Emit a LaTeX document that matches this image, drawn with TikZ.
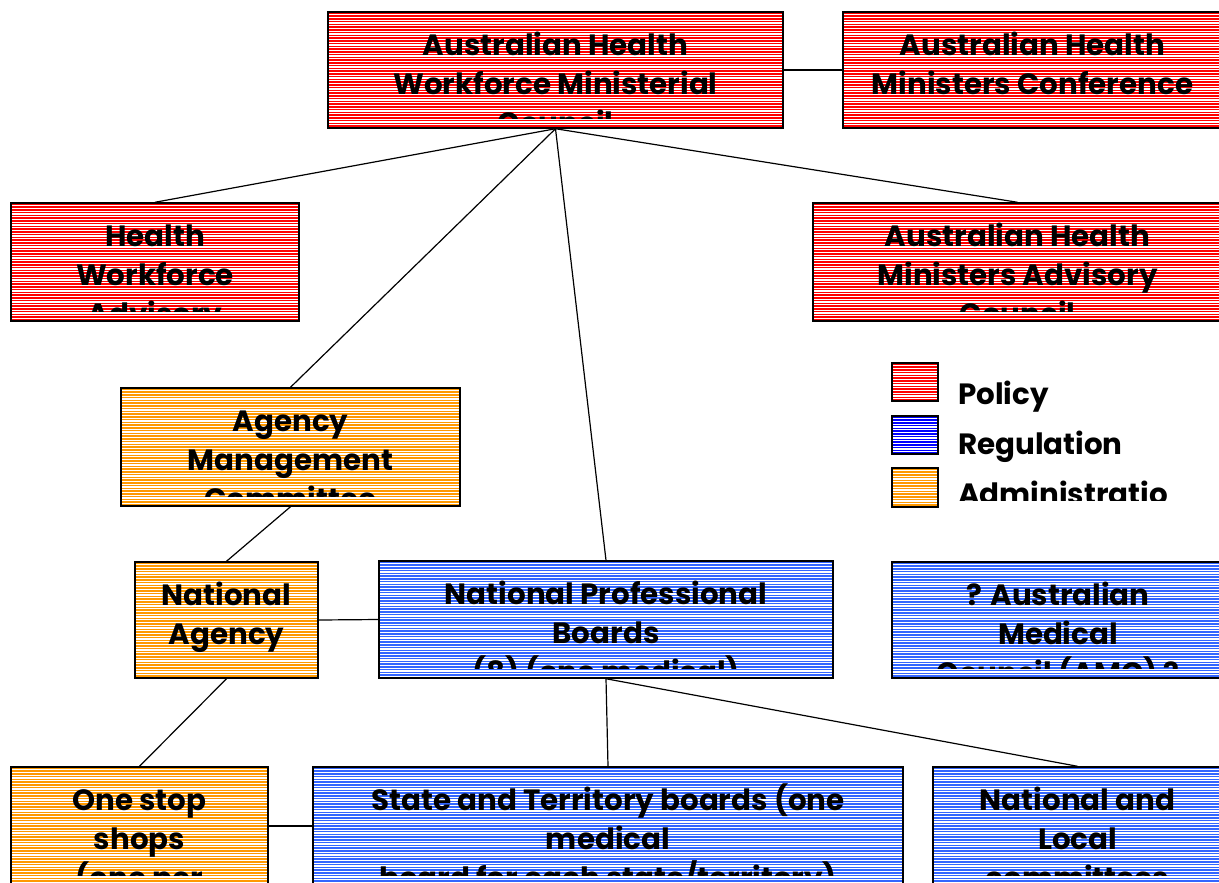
\documentclass[tikz,border=0pt]{standalone}
\usepackage{fontspec}
\newfontfamily\orgfont{Poppins}
\usetikzlibrary{fit}

\definecolor{policyred}{RGB}{255,0,0}
\definecolor{regblue}{RGB}{51,102,255}
\definecolor{keyblue}{RGB}{0,0,255}
\definecolor{adminorange}{RGB}{255,153,0}

\tikzset{
  orgtext/.style={font=\orgfont\bfseries\fontsize{22}{26}\selectfont,
    anchor=base, inner sep=0pt, text=black},
  orgframe/.style={draw=black, line width=1.1pt, inner sep=0pt},
  link/.style={draw=black, line width=0.9pt},
  stripe/.style={line width=1.2pt},
}

% white rectangle filled with thin horizontal stripes
\newcommand\hatchrect[5]{%
  \begin{scope}
    \clip (#1,#2) rectangle (#3,#4);
    \fill[white] (#1,#2) rectangle (#3,#4);
    \foreach \k in {0,...,45}
      \draw[stripe,#5] (#1,{#2+1.4+2.75*\k}) -- (#3,{#2+1.4+2.75*\k});
  \end{scope}}

% #1 name, #2-#5 corners (x1,y1,x2,y2), #6 stripe colour, #7 text lines
\newcommand\orgunit[7]{%
  \hatchrect{#2}{#3}{#4}{#5}{#6}
  \begin{scope}
    \clip (#2,#3) rectangle (#4,{#5-10});
    \foreach \t [count=\i from 0] in {#7}
      \node[orgtext] (#1-\i) at ({(#2+#4)/2},{#3+43+39*\i}) {\t};
  \end{scope}
  \node[orgframe, fit={(#2,#3) (#4,#5)}] (#1) {};}

\begin{document}
\begin{tikzpicture}[x=0.75pt,y=-0.75pt]
\useasboundingbox (0,0) rectangle (1219,882);
\clip (0,0) rectangle (1219,882);

% policy level
\orgunit{ahwmc}{328}{12}{783}{128}{policyred}{Australian Health,Workforce Ministerial,Council}
\orgunit{ahmc}{843}{12}{1222}{128}{policyred}{Australian Health,Ministers Conference}
\orgunit{hwac}{11}{203}{299}{321}{policyred}{Health,Workforce,Advisory}
\orgunit{ahmac}{813}{203}{1222}{321}{policyred}{Australian Health,Ministers Advisory,Council}

% administration
\orgunit{amcom}{121}{388}{460}{506}{adminorange}{Agency,Management,Committee}
\orgunit{nagency}{135}{562}{318}{678}{adminorange}{National,Agency}
\orgunit{onestop}{11}{767}{268}{885}{adminorange}{One stop,shops,{(one per}}

% regulation
\orgunit{npb}{379}{561}{833}{678}{regblue}{National Professional,Boards,{(8) (one medical)}}
\orgunit{amc}{892}{562}{1224}{678}{regblue}{? Australian,Medical,Council (AMC) ?}
\orgunit{stboards}{313}{767}{903}{885}{regblue}{State and Territory boards (one,medical,board for each state/territory)}
\orgunit{natlocal}{933}{767}{1222}{885}{regblue}{National and,Local,committees}

% key
\hatchrect{892}{363}{938}{401}{policyred}
\node[orgframe, fit={(892,363) (938,401)}] (key-policy) {};
\hatchrect{892}{416}{938}{454}{keyblue}
\node[orgframe, fit={(892,416) (938,454)}] (key-reg) {};
\hatchrect{892}{468}{938}{507}{adminorange}
\node[orgframe, fit={(892,468) (938,507)}] (key-admin) {};
\node[orgtext, anchor=base west] (key-policy-text) at (958,404) {Policy};
\node[orgtext, anchor=base west] (key-reg-text) at (958,454) {Regulation};
\begin{scope}
  \clip (950,470) rectangle (1219,500);
  \node[orgtext, anchor=base west] (key-admin-text) at (958,504) {Administratio};
\end{scope}

% reporting lines
\draw[link] (ahwmc.east) -- (ahmc.west);
\draw[link] (ahwmc.south) -- (hwac.north);
\draw[link] (ahwmc.south) -- (ahmac.north);
\draw[link] (ahwmc.south) -- (amcom.north);
\draw[link] (ahwmc.south) -- (npb.north);
\draw[link] (amcom.south) -- (nagency.north);
\draw[link] (nagency.east) -- (npb.west);
\draw[link] (nagency.south) -- (onestop.north);
\draw[link] (onestop.east) -- (stboards.west);
\draw[link] (npb.south) -- (stboards.north);
\draw[link] (npb.south) -- (natlocal.north);
\end{tikzpicture}
\end{document}
